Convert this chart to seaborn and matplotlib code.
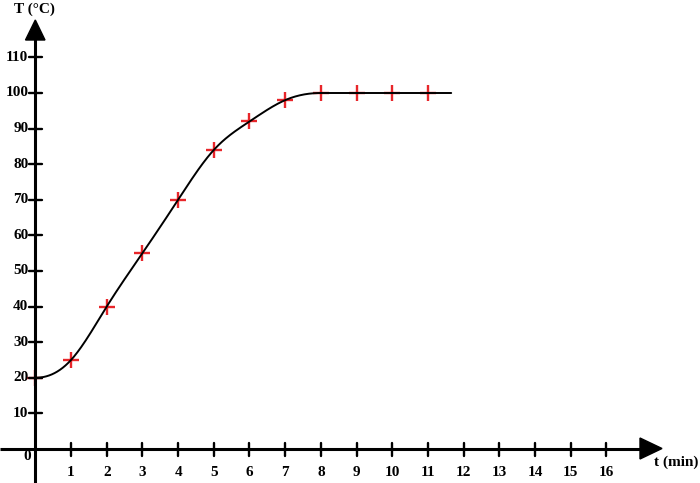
import numpy as np
import pandas as pd
import matplotlib
matplotlib.use("Agg")
import matplotlib.pyplot as plt
import seaborn as sns

# Data
t_min = [0, 1, 2, 3, 4, 5, 6, 7, 8, 9, 10, 11]
temp_c = [20, 25, 40, 55, 70, 84, 92, 98, 100, 100, 100, 100]
curve_end_t = 11.65
curve_end_T = 100
x_ticks = list(range(1, 17))
y_ticks = list(range(10, 111, 10))

sns.set_theme(style="white")
plt.rcParams['font.family'] = ['Liberation Serif', 'DejaVu Serif']

W, H = 700, 483
fig = plt.figure(figsize=(7, 4.83), dpi=100)
ax = fig.add_axes([0, 0, 1, 1])
ax.set_axis_off()

# pixel mapping: origin at (35.3, 449), 35.7 px per minute, 3.56 px per degree
ox, oy = 35.3, 449.0
sx, sy = 35.7, 3.56
ax.set_xlim(-ox / sx, (W - ox) / sx)
ax.set_ylim(-(H - oy) / sy, oy / sy)


def clamped_spline(xs, ys, npts=40):
    """Cubic spline with zero slope at both ends."""
    xs = np.asarray(xs, float)
    ys = np.asarray(ys, float)
    n = len(xs)
    h = np.diff(xs)
    A = np.zeros((n, n))
    b = np.zeros(n)
    A[0, 0], A[0, 1] = 2 * h[0], h[0]
    b[0] = 6 * (ys[1] - ys[0]) / h[0]
    A[-1, -2], A[-1, -1] = h[-1], 2 * h[-1]
    b[-1] = -6 * (ys[-1] - ys[-2]) / h[-1]
    for i in range(1, n - 1):
        A[i, i - 1] = h[i - 1]
        A[i, i] = 2 * (h[i - 1] + h[i])
        A[i, i + 1] = h[i]
        b[i] = 6 * ((ys[i + 1] - ys[i]) / h[i] - (ys[i] - ys[i - 1]) / h[i - 1])
    M = np.linalg.solve(A, b)
    cx, cy = [], []
    for i in range(n - 1):
        xx = np.linspace(xs[i], xs[i + 1], npts)
        a_ = xs[i + 1] - xx
        b_ = xx - xs[i]
        yy = (M[i] * a_**3 + M[i + 1] * b_**3) / (6 * h[i]) \
            + (ys[i] / h[i] - M[i] * h[i] / 6) * a_ \
            + (ys[i + 1] / h[i] - M[i + 1] * h[i] / 6) * b_
        cx.extend(xx)
        cy.extend(yy)
    return cx, cy


# rising part up to the first plateau point, then the flat plateau
k = temp_c.index(max(temp_c))
cx, cy = clamped_spline(t_min[:k + 1], temp_c[:k + 1])
cx += t_min[k + 1:] + [curve_end_t]
cy += temp_c[k + 1:] + [curve_end_T]
curve = pd.DataFrame({"t": cx, "T": cy})
pts = pd.DataFrame({"t": t_min, "T": temp_c})

sns.scatterplot(data=pts, x="t", y="T", marker="+", s=140, color="#e8262a",
                linewidth=1.7, ax=ax, zorder=2, legend=False)
sns.lineplot(data=curve, x="t", y="T", color="black", lw=1.4, ax=ax,
             zorder=3, sort=False, estimator=None)

# axes lines
ax.plot([-ox / sx, (641 - ox) / sx], [0, 0], color="black", lw=2.2, zorder=4,
        solid_capstyle="butt")
ax.plot([0, 0], [-(H - oy) / sy, (oy - 38) / sy], color="black", lw=2.2, zorder=4,
        solid_capstyle="butt")


def pf(px, py):
    return (px / W, 1 - py / H)


# arrow heads
ax.add_patch(plt.Polygon([pf(662, 448.5), pf(640, 438), pf(640, 459)], closed=True,
                         color="black", transform=ax.transAxes, zorder=5))
ax.add_patch(plt.Polygon([pf(35.3, 20), pf(25.5, 40), pf(45, 40)], closed=True,
                         color="black", transform=ax.transAxes, zorder=5))

# ticks
tk = 6.5
fs = 11
for xv in x_ticks:
    ax.plot([xv, xv], [-tk / sy, tk / sy], color="black", lw=1.7, zorder=4)
    ax.text(xv, -24 / sy, str(xv), ha="center", va="center", fontsize=fs,
            fontweight="bold", color="black")
for yv in y_ticks:
    ax.plot([-tk / sx, tk / sx], [yv, yv], color="black", lw=1.7, zorder=4)
    ax.text(-7 / sx, yv, str(yv), ha="right", va="center", fontsize=fs,
            fontweight="bold", color="black")
ax.text(-8.5 / sx, -8 / sy, "0", ha="center", va="center", fontsize=fs,
        fontweight="bold", color="black")

ax.text(*pf(34, 9), "T (°C)", transform=ax.transAxes, ha="center", va="center",
        fontsize=fs, fontweight="bold", color="black")
ax.text(*pf(676, 462), "t (min)", transform=ax.transAxes, ha="center", va="center",
        fontsize=fs, fontweight="bold", color="black")

fig.savefig("out.png", dpi=100)
